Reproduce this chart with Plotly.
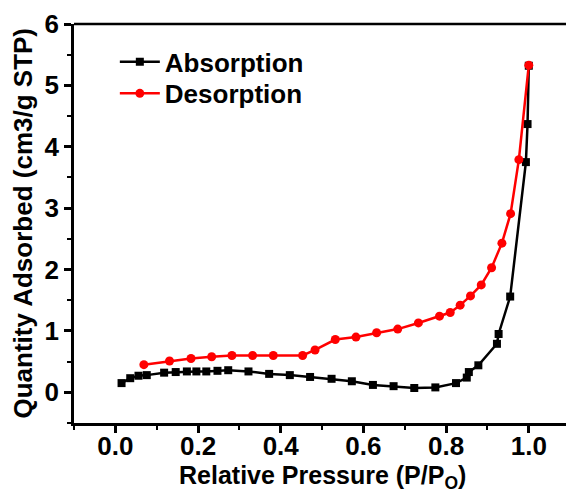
import plotly.graph_objects as go

# Absorption (black squares)
abs_x = [0.015, 0.036, 0.056, 0.076, 0.118, 0.146, 0.173, 0.196, 0.22, 0.247, 0.273,
         0.322, 0.372, 0.422, 0.471, 0.523, 0.572, 0.623, 0.673, 0.723, 0.774, 0.824,
         0.85, 0.855, 0.878, 0.923, 0.927, 0.955, 0.993, 0.997, 1.0]
abs_y = [0.15, 0.23, 0.27, 0.28, 0.32, 0.33, 0.34, 0.34, 0.34, 0.35, 0.36,
         0.34, 0.30, 0.28, 0.25, 0.22, 0.18, 0.12, 0.10, 0.07, 0.08, 0.15,
         0.24, 0.33, 0.44, 0.79, 0.95, 1.56, 3.75, 4.37, 5.32]

# Desorption (red circles)
des_x = [0.069, 0.131, 0.183, 0.233, 0.282, 0.332, 0.382, 0.453, 0.483, 0.532, 0.582,
         0.632, 0.683, 0.733, 0.784, 0.81, 0.834, 0.859, 0.885, 0.91, 0.935, 0.956,
         0.976, 1.0]
des_y = [0.45, 0.51, 0.55, 0.58, 0.60, 0.60, 0.60, 0.60, 0.69, 0.86, 0.90,
         0.97, 1.03, 1.13, 1.24, 1.30, 1.42, 1.57, 1.75, 2.03, 2.43, 2.91,
         3.79, 5.33]

x_ticks = [0.0, 0.2, 0.4, 0.6, 0.8, 1.0]
x_tick_labels = ["0.0", "0.2", "0.4", "0.6", "0.8", "1.0"]
y_ticks = [0, 1, 2, 3, 4, 5, 6]

x_title = "Relative Pressure (P/P<sub>O</sub>)"
y_title = "Quantity Adsorbed (cm3/g STP)"

FONT = "Arial, 'Liberation Sans', sans-serif"

fig = go.Figure()
fig.add_trace(go.Scatter(
    x=abs_x, y=abs_y, mode="lines+markers", name="Absorption",
    line=dict(color="black", width=2.5),
    marker=dict(symbol="square", size=8, color="black"),
    legend="legend",
))
fig.add_trace(go.Scatter(
    x=des_x, y=des_y, mode="lines+markers", name="Desorption",
    line=dict(color="#ff0000", width=2.5),
    marker=dict(symbol="circle", size=9, color="#ff0000"),
    legend="legend2",
))

legend_common = dict(
    xanchor="left", yanchor="middle",
    bgcolor="rgba(0,0,0,0)", borderwidth=0,
    font=dict(family=FONT, size=26, color="black", weight="bold"),
    itemwidth=40,
)

fig.update_layout(
    width=566, height=492,
    margin=dict(l=74, r=0, t=24, b=69),
    plot_bgcolor="white", paper_bgcolor="white",
    font=dict(family=FONT, size=26, color="black", weight="bold"),
    showlegend=True,
    legend=dict(x=0.083, y=0.905, **legend_common),
    legend2=dict(x=0.083, y=0.826, **legend_common),
    xaxis=dict(
        range=[-0.1, 1.09],
        tickvals=x_ticks, ticktext=x_tick_labels,
        ticks="outside", ticklen=7, tickwidth=2.5, tickcolor="black",
        showline=True, linecolor="black", linewidth=2.5,
        showgrid=False, zeroline=False,
        minor=dict(dtick=0.1, tick0=0, ticks="outside", ticklen=4, tickwidth=2, tickcolor="black"),
        tickfont=dict(family=FONT, size=26, weight="bold"),
        ticklabelstandoff=-9,
    ),
    yaxis=dict(
        range=[-0.5, 6],
        tickvals=y_ticks,
        ticks="outside", ticklen=7, tickwidth=2.5, tickcolor="black",
        showline=True, linecolor="black", linewidth=2.5,
        showgrid=False, zeroline=False,
        minor=dict(dtick=0.5, tick0=0, ticks="outside", ticklen=4, tickwidth=2, tickcolor="black"),
        tickfont=dict(family=FONT, size=26, weight="bold"),
    ),
    shapes=[dict(type="line", xref="paper", yref="paper", x0=0, x1=1, y0=1, y1=1,
                 line=dict(color="black", width=2.5))],
    annotations=[
        dict(text=x_title, xref="paper", yref="paper", x=(322 - 74) / 492, y=0,
             xanchor="center", yanchor="middle", yshift=-54, showarrow=False,
             font=dict(family=FONT, size=25, weight="bold")),
        dict(text=y_title, xref="paper", yref="paper", x=0, y=0.5,
             xanchor="center", yanchor="middle", xshift=-52, showarrow=False,
             textangle=-90,
             font=dict(family=FONT, size=26, weight="bold")),
    ],
)

fig.write_html("out.html")
